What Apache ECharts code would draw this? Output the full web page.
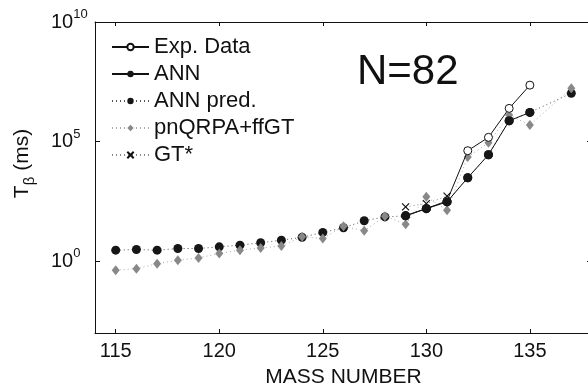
<!DOCTYPE html>
<html><head><meta charset="utf-8">
<script src="https://cdn.jsdelivr.net/npm/echarts@6/dist/echarts.min.js"></script>
<style>html,body{margin:0;padding:0;background:#fff}#c{width:588px;height:391px}</style>
</head><body><div id="c"></div>
<script>
// Mass numbers and half-lives T_beta (ms)
const annPredMass = [115,116,117,118,119,120,121,122,123,124,125,126,127,128,129,130,131,132,133,134,135,137];
const annPredT    = [2.9,3.1,2.9,3.4,3.4,4.0,4.7,5.9,7.6,10,16,25,49,71,79,158,302,3090,28200,741000,1660000,10500000];
const annMass = [129,130,131,132,133,134,135];
const annT    = [79,158,302,3090,28200,741000,1660000];
const expMass = [129,130,131,132,133,134,135];
const expT    = [80,160,330,41700,151000,2450000,22900000];
const qrpaMass = [115,116,117,118,119,120,121,122,123,124,125,126,127,128,129,130,131,132,133,134,135,137];
const qrpaT    = [0.42,0.49,0.79,1.10,1.38,2.1,2.9,3.6,4.3,10.5,8.9,29,18.6,76,35.5,490,135,22900,89100,1290000,490000,17000000];
const gtMass = [129,130,131];
const gtT    = [186,257,525];
const xTickLabels = [115,120,125,130,135];
const yTickValues = [1,1e5,1e10];
const seriesNames = ['Exp. Data','ANN','ANN pred.','pnQRPA+ffGT','GT*'];

const pairs = (xs, ys) => xs.map((x, i) => [x, ys[i]]);
const FONT = 'Liberation Sans';
const chart = echarts.init(document.getElementById('c'), null, {renderer: 'canvas'});

const xBase = {
  type: 'value', min: 114, max: 138, gridIndex: 0,
  splitLine: {show: false},
  axisLine: {lineStyle: {color: '#111', width: 1}},
  axisTick: {show: true, inside: true, length: 4, customValues: xTickLabels, lineStyle: {color: '#111'}},
};
const yBase = {
  type: 'log', logBase: 10, min: 1e-3, max: 1e10, gridIndex: 0,
  splitLine: {show: false}, minorTick: {show: false},
  axisLine: {show: true, lineStyle: {color: '#111', width: 1}},
  axisTick: {show: true, inside: true, length: 5, customValues: yTickValues, lineStyle: {color: '#111'}},
};

chart.setOption({
  animation: false,
  backgroundColor: '#fff',
  textStyle: {fontFamily: FONT},
  grid: {left: 95, top: 22, width: 497, bottom: 58, containLabel: false, outerBoundsMode: 'none'},
  legend: {
    orient: 'vertical', left: 106, top: 31,
    itemWidth: 37, itemHeight: 8, itemGap: 5,
    data: seriesNames,
    textStyle: {fontFamily: FONT, fontSize: 22, color: '#111'},
  },
  graphic: [{
    type: 'text', left: 357, top: 51, z: 10,
    style: {text: 'N=82', font: '42px "Liberation Sans"', fill: '#111'}
  }],
  xAxis: [
    Object.assign({}, xBase, {
      position: 'bottom',
      name: 'MASS NUMBER', nameLocation: 'middle', nameGap: 34,
      nameTextStyle: {fontFamily: FONT, fontSize: 21, color: '#111'},
      axisLabel: {customValues: xTickLabels, fontFamily: FONT, fontSize: 20, color: '#111', margin: 8},
    }),
    Object.assign({}, xBase, {position: 'top', axisLabel: {show: false}})
  ],
  yAxis: [
    Object.assign({}, yBase, {
      position: 'left',
      name: 'T{sub|β} (ms)', nameLocation: 'middle', nameGap: 58, nameRotate: 90,
      nameTextStyle: {fontFamily: FONT, fontSize: 21, color: '#111', padding: [0,0,0,28],
        rich: {sub: {fontFamily: FONT, fontSize: 15, verticalAlign: 'bottom', lineHeight: 30, color: '#111'}}},
      axisLabel: {
        customValues: yTickValues, align: 'left', margin: 44, color: '#111',
        formatter: v => '{m|10}{s|' + Math.round(Math.log10(v)) + '}',
        rich: {
          m: {fontFamily: FONT, fontSize: 20, lineHeight: 28, color: '#111'},
          s: {fontFamily: FONT, fontSize: 13, lineHeight: 12, verticalAlign: 'top', color: '#111'}
        }
      },
    }),
    Object.assign({}, yBase, {position: 'right', axisLabel: {show: false}})
  ],
  series: [
    {
      name: 'ANN pred.', type: 'line', data: pairs(annPredMass, annPredT), z: 2,
      symbol: 'circle', symbolSize: 9, showSymbol: true,
      itemStyle: {color: '#161616'},
      lineStyle: {color: '#555', width: 1, type: [1, 3]},
    },
    {
      name: 'pnQRPA+ffGT', type: 'line', data: pairs(qrpaMass, qrpaT), z: 3,
      symbol: 'diamond', symbolSize: [8, 10],
      itemStyle: {color: '#888'},
      lineStyle: {color: '#aaa', width: 1, type: [1, 3]},
    },
    {
      name: 'GT*', type: 'line', data: pairs(gtMass, gtT), z: 4,
      symbol: 'path://M0,0L10,10M10,0L0,10', symbolSize: 7,
      itemStyle: {color: 'none', borderColor: '#111', borderWidth: 1.2},
      lineStyle: {color: '#888', width: 1, type: [1, 3]},
    },
    {
      name: 'Exp. Data', type: 'line', data: pairs(expMass, expT), z: 5,
      symbol: 'circle', symbolSize: 8,
      itemStyle: {color: '#fff', borderColor: '#111', borderWidth: 1},
      lineStyle: {color: '#111', width: 1},
    },
    {
      name: 'ANN', type: 'line', data: pairs(annMass, annT), z: 6,
      symbol: 'circle', symbolSize: 9,
      itemStyle: {color: '#161616'},
      lineStyle: {color: '#111', width: 1},
    }
  ]
});
</script>
</body></html>
